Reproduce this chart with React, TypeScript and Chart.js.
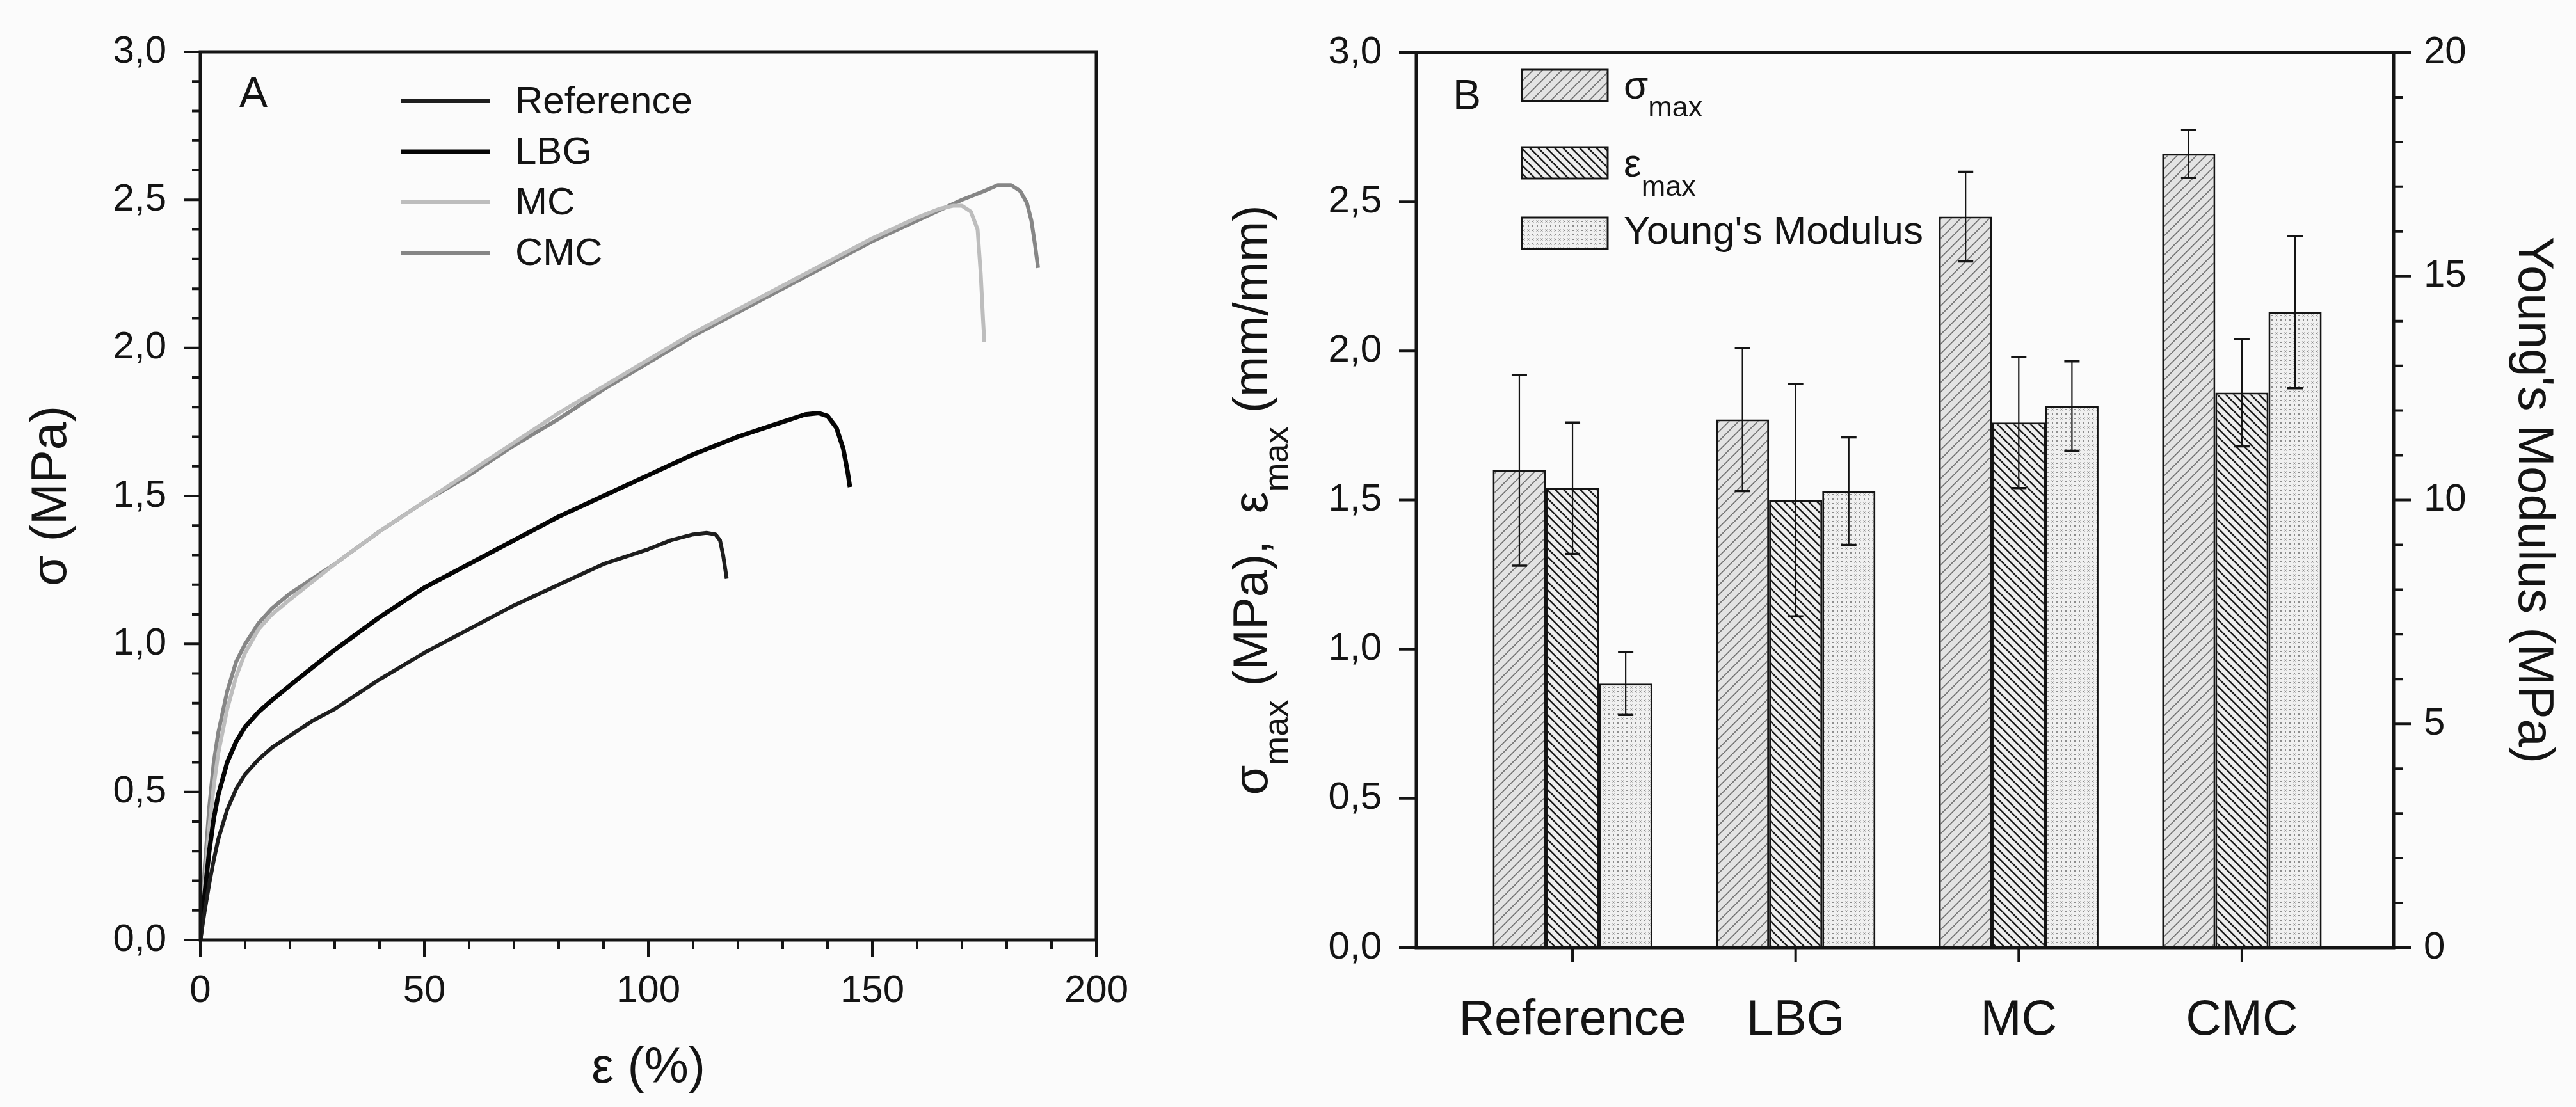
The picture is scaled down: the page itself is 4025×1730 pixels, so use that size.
import React, { useEffect, useRef } from 'react';
import { Chart, registerables } from 'chart.js';

Chart.register(...registerables);

const FONT = '"Liberation Sans", Arial, Helvetica, sans-serif';
const INK = '#141414';

// ---------- Panel A data (stress-strain curves) ----------
const refStrain = [0, 1, 2, 3, 4, 6, 8, 10, 13, 16, 20, 25, 30, 40, 50, 60, 70, 80, 90, 100, 105, 110, 113, 115, 116, 116.7, 117.2, 117.5];
const refStress = [0, 0.1, 0.19, 0.27, 0.34, 0.44, 0.51, 0.56, 0.61, 0.65, 0.69, 0.74, 0.78, 0.88, 0.97, 1.05, 1.13, 1.2, 1.27, 1.32, 1.35, 1.37, 1.375, 1.37, 1.35, 1.3, 1.25, 1.22];

const lbgStrain = [0, 1, 2, 3, 4, 6, 8, 10, 13, 16, 20, 25, 30, 40, 50, 60, 70, 80, 90, 100, 110, 120, 130, 135, 138, 140, 142, 143.5, 144.5, 145];
const lbgStress = [0, 0.16, 0.3, 0.41, 0.49, 0.6, 0.67, 0.72, 0.77, 0.81, 0.86, 0.92, 0.98, 1.09, 1.19, 1.27, 1.35, 1.43, 1.5, 1.57, 1.64, 1.7, 1.75, 1.775, 1.78, 1.77, 1.73, 1.66, 1.58, 1.53];

const mcStrain = [0, 1, 2, 3, 4, 6, 8, 10, 13, 16, 20, 25, 30, 40, 50, 60, 70, 80, 90, 100, 110, 120, 130, 140, 150, 160, 165, 168, 170, 172, 173.5, 174.2, 174.7, 175];
const mcStress = [0, 0.2, 0.38, 0.52, 0.63, 0.78, 0.89, 0.97, 1.05, 1.1, 1.15, 1.21, 1.27, 1.38, 1.48, 1.58, 1.68, 1.78, 1.87, 1.96, 2.05, 2.13, 2.21, 2.29, 2.37, 2.44, 2.47, 2.48, 2.48, 2.46, 2.4, 2.25, 2.1, 2.02];

const cmcStrain = [0, 1, 2, 3, 4, 6, 8, 10, 13, 16, 20, 25, 30, 40, 50, 60, 70, 80, 90, 100, 110, 120, 130, 140, 150, 160, 170, 175, 178, 181, 183, 184.5, 185.5, 186.3, 187];
const cmcStress = [0, 0.25, 0.45, 0.6, 0.7, 0.84, 0.94, 1.0, 1.07, 1.12, 1.17, 1.22, 1.27, 1.38, 1.48, 1.57, 1.67, 1.76, 1.86, 1.95, 2.04, 2.12, 2.2, 2.28, 2.36, 2.43, 2.5, 2.53, 2.55, 2.55, 2.53, 2.49, 2.43, 2.35, 2.27];

const curveLabels = ['Reference', 'LBG', 'MC', 'CMC'];
const xTicksA = [0, 50, 100, 150, 200];
const yTicksA = [0, 0.5, 1, 1.5, 2, 2.5, 3];

// ---------- Panel B data (bars) ----------
const categories = ['Reference', 'LBG', 'MC', 'CMC'];
const sigmaMax = [1.6, 1.77, 2.45, 2.66];
const sigmaErr = [0.32, 0.24, 0.15, 0.08];
const epsMax = [1.54, 1.5, 1.76, 1.86];
const epsErr = [0.22, 0.39, 0.22, 0.18];
const youngMod = [5.9, 10.2, 12.1, 14.2];
const youngErr = [0.7, 1.2, 1.0, 1.7];
const yTicksB = [0, 0.5, 1, 1.5, 2, 2.5, 3];
const y2TicksB = [0, 5, 10, 15, 20];

// ---------- layout ----------
const W = 4025;
const H = 1730;
const A_W = 1860;
const B_X = 1860;
const B_W = W - B_X;
const A_AREA = { left: 313, right: 1713, top: 68, bottom: 1469 };
const B_AREA = { left: 2213 - B_X, right: 3740 - B_X, top: 79, bottom: 1481 };

const comma = (v: number) => v.toFixed(1).replace('.', ',');

function makePattern(kind: string): CanvasPattern {
  const c = document.createElement('canvas');
  const g = c.getContext('2d') as CanvasRenderingContext2D;
  if (kind === 'sigma') {
    const s = 15;
    c.width = s; c.height = s;
    g.fillStyle = '#e3e3e3'; g.fillRect(0, 0, s, s);
    g.strokeStyle = '#707070'; g.lineWidth = 1.6;
    g.beginPath();
    g.moveTo(0, s); g.lineTo(s, 0);
    g.moveTo(-1, 1); g.lineTo(1, -1);
    g.moveTo(s - 1, s + 1); g.lineTo(s + 1, s - 1);
    g.stroke();
  } else if (kind === 'eps') {
    const s = 13;
    c.width = s; c.height = s;
    g.fillStyle = '#eeeeee'; g.fillRect(0, 0, s, s);
    g.strokeStyle = '#1c1c1c'; g.lineWidth = 2.4;
    g.beginPath();
    g.moveTo(0, 0); g.lineTo(s, s);
    g.moveTo(-1, s - 1); g.lineTo(1, s + 1);
    g.moveTo(s - 1, -1); g.lineTo(s + 1, 1);
    g.stroke();
  } else {
    const s = 7;
    c.width = s; c.height = s;
    g.fillStyle = '#f0f0f0'; g.fillRect(0, 0, s, s);
    g.strokeStyle = '#8c8c8c'; g.lineWidth = 1;
    g.beginPath();
    g.moveTo(1.5, 1.5); g.lineTo(4.5, 4.5);
    g.moveTo(4.5, 1.5); g.lineTo(1.5, 4.5);
    g.stroke();
  }
  return g.createPattern(c, 'repeat') as CanvasPattern;
}

type Part = { t: string; sub?: boolean };
function drawRich(ctx: CanvasRenderingContext2D, parts: Part[], x: number, y: number, main: number, sub: number, shift: number, align: 'left' | 'center') {
  let total = 0;
  parts.forEach((p) => {
    ctx.font = `${p.sub ? sub : main}px ${FONT}`;
    total += ctx.measureText(p.t).width;
  });
  let cx = align === 'center' ? x - total / 2 : x;
  ctx.textAlign = 'left';
  ctx.textBaseline = 'alphabetic';
  parts.forEach((p) => {
    ctx.font = `${p.sub ? sub : main}px ${FONT}`;
    ctx.fillText(p.t, cx, y + (p.sub ? shift : 0));
    cx += ctx.measureText(p.t).width;
  });
}

const decorA = {
  id: 'decorA',
  afterDraw(chart: any) {
    const { ctx, chartArea: ca, scales } = chart;
    const xs = scales.x;
    const ys = scales.y;
    ctx.save();
    ctx.strokeStyle = INK;
    ctx.lineWidth = 5;
    ctx.strokeRect(ca.left, ca.top, ca.right - ca.left, ca.bottom - ca.top);
    ctx.lineWidth = 4;
    ctx.beginPath();
    for (let k = 0; k <= 20; k++) {
      const p = xs.getPixelForValue(k * 10);
      const len = k % 5 === 0 ? 26 : 14;
      ctx.moveTo(p, ca.bottom);
      ctx.lineTo(p, ca.bottom + len);
    }
    for (let k = 0; k <= 30; k++) {
      const p = ys.getPixelForValue(k / 10);
      const len = k % 5 === 0 ? 26 : 13;
      ctx.moveTo(ca.left, p);
      ctx.lineTo(ca.left - len, p);
    }
    ctx.stroke();

    ctx.fillStyle = INK;
    ctx.font = `66px ${FONT}`;
    ctx.textAlign = 'left';
    ctx.textBaseline = 'alphabetic';
    ctx.fillText('A', 374, 167);

    chart.data.datasets.forEach((ds: any, i: number) => {
      const y = 158 + i * 79;
      ctx.strokeStyle = ds.borderColor;
      ctx.lineWidth = ds.borderWidth;
      ctx.beginPath();
      ctx.moveTo(627, y);
      ctx.lineTo(765, y);
      ctx.stroke();
      ctx.fillStyle = INK;
      ctx.font = `60px ${FONT}`;
      ctx.textAlign = 'left';
      ctx.textBaseline = 'middle';
      ctx.fillText(ds.label, 805, y + 2);
    });

    ctx.fillStyle = INK;
    ctx.font = `78px ${FONT}`;
    ctx.textAlign = 'center';
    ctx.textBaseline = 'alphabetic';
    ctx.fillText('ε (%)', (ca.left + ca.right) / 2, 1692);
    ctx.save();
    ctx.translate(103, (ca.top + ca.bottom) / 2);
    ctx.rotate(-Math.PI / 2);
    ctx.fillText('σ (MPa)', 0, 0);
    ctx.restore();
    ctx.restore();
  },
};

const decorB = {
  id: 'decorB',
  afterDatasetsDraw(chart: any) {
    const { ctx } = chart;
    ctx.save();
    ctx.strokeStyle = INK;
    chart.data.datasets.forEach((ds: any, di: number) => {
      const meta = chart.getDatasetMeta(di);
      const ys = chart.scales[meta.yAxisID];
      meta.data.forEach((bar: any, i: number) => {
        const v = ds.data[i].y;
        const e = ds.errors[i];
        const t = ys.getPixelForValue(v + e);
        const b = ys.getPixelForValue(v - e);
        ctx.lineWidth = 2.2;
        ctx.beginPath();
        ctx.moveTo(bar.x, t);
        ctx.lineTo(bar.x, b);
        ctx.stroke();
        ctx.lineWidth = 3.5;
        ctx.beginPath();
        ctx.moveTo(bar.x - 12, t);
        ctx.lineTo(bar.x + 12, t);
        ctx.moveTo(bar.x - 12, b);
        ctx.lineTo(bar.x + 12, b);
        ctx.stroke();
      });
    });
    ctx.restore();
  },
  afterDraw(chart: any) {
    const { ctx, chartArea: ca, scales } = chart;
    ctx.save();
    ctx.strokeStyle = INK;
    ctx.lineWidth = 5;
    ctx.strokeRect(ca.left, ca.top, ca.right - ca.left, ca.bottom - ca.top);
    ctx.lineWidth = 4;
    ctx.beginPath();
    yTicksB.forEach((v) => {
      const p = scales.y.getPixelForValue(v);
      ctx.moveTo(ca.left, p);
      ctx.lineTo(ca.left - 27, p);
    });
    for (let k = 0; k <= 20; k++) {
      const p = scales.y2.getPixelForValue(k);
      const len = k % 5 === 0 ? 27 : 14;
      ctx.moveTo(ca.right, p);
      ctx.lineTo(ca.right + len, p);
    }
    categories.forEach((_, i) => {
      const p = scales.x.getPixelForValue(i);
      ctx.moveTo(p, ca.bottom);
      ctx.lineTo(p, ca.bottom + 22);
    });
    ctx.stroke();

    ctx.fillStyle = INK;
    ctx.font = `66px ${FONT}`;
    ctx.textAlign = 'left';
    ctx.textBaseline = 'alphabetic';
    ctx.fillText('B', 2270 - B_X, 171);

    // legend
    const boxes = [109, 230, 340];
    const bx = 2378 - B_X;
    chart.data.datasets.forEach((ds: any, i: number) => {
      const y = boxes[i];
      ctx.fillStyle = ds.backgroundColor;
      ctx.fillRect(bx, y, 134, 49);
      ctx.strokeStyle = INK;
      ctx.lineWidth = 3;
      ctx.strokeRect(bx, y, 134, 49);
    });
    ctx.fillStyle = INK;
    const tx = 2537 - B_X;
    drawRich(ctx, [{ t: 'σ' }, { t: 'max', sub: true }], tx, 154, 62, 45, 28, 'left');
    drawRich(ctx, [{ t: 'ε' }, { t: 'max', sub: true }], tx, 276, 62, 45, 30, 'left');
    ctx.font = `62px ${FONT}`;
    ctx.fillText("Young's Modulus", tx, 381);

    // axis titles
    const cy = (ca.top + ca.bottom) / 2;
    ctx.save();
    ctx.translate(1980 - B_X, cy);
    ctx.rotate(-Math.PI / 2);
    drawRich(ctx, [
      { t: 'σ' }, { t: 'max', sub: true }, { t: ' (MPa),  ' },
      { t: 'ε' }, { t: 'max', sub: true }, { t: ' (mm/mm)' },
    ], 0, 0, 76, 54, 32, 'center');
    ctx.restore();
    ctx.save();
    ctx.translate(3936 - B_X, cy);
    ctx.rotate(Math.PI / 2);
    ctx.font = `78px ${FONT}`;
    ctx.textAlign = 'center';
    ctx.textBaseline = 'alphabetic';
    ctx.fillText("Young's Modulus (MPa)", 0, 0);
    ctx.restore();
    ctx.restore();
  },
};

export default function App() {
  const aRef = useRef<HTMLCanvasElement>(null);
  const bRef = useRef<HTMLCanvasElement>(null);

  useEffect(() => {
    Chart.defaults.font.family = FONT;
    Chart.defaults.color = INK;

    const series = [
      [refStrain, refStress],
      [lbgStrain, lbgStress],
      [mcStrain, mcStress],
      [cmcStrain, cmcStress],
    ];
    const colors = ['#1e1e1e', '#050505', '#bdbdbd', '#868686'];
    const widths = [6, 7, 6, 6];

    const chartA = new Chart(aRef.current as HTMLCanvasElement, {
      type: 'scatter',
      data: {
        datasets: series.map(([xs, ys], i) => ({
          label: curveLabels[i],
          data: xs.map((x, j) => ({ x, y: ys[j] })),
          showLine: true,
          borderColor: colors[i],
          backgroundColor: colors[i],
          borderWidth: widths[i],
          borderJoinStyle: 'round',
          pointRadius: 0,
          tension: 0,
          fill: false,
        })),
      },
      options: {
        responsive: false,
        animation: false,
        events: [],
        layout: { padding: { left: 0, top: A_AREA.top, right: A_W - A_AREA.right, bottom: 0 } },
        plugins: { legend: { display: false }, tooltip: { enabled: false } },
        scales: {
          x: {
            type: 'linear',
            min: 0,
            max: 200,
            offset: false,
            grid: { display: false },
            border: { display: false },
            afterBuildTicks: (s: any) => { s.ticks = xTicksA.map((v) => ({ value: v })); },
            ticks: { padding: 36, font: { size: 60, family: FONT }, color: INK, maxRotation: 0, autoSkip: false },
            afterFit: (s: any) => { s.height = H - A_AREA.bottom; },
          },
          y: {
            type: 'linear',
            min: 0,
            max: 3,
            grid: { display: false },
            border: { display: false },
            afterBuildTicks: (s: any) => { s.ticks = yTicksA.map((v) => ({ value: v })); },
            ticks: { padding: 45, font: { size: 60, family: FONT }, color: INK, callback: (v: any) => comma(Number(v)) },
            afterFit: (s: any) => { s.width = A_AREA.left; },
          },
        },
      } as any,
      plugins: [decorA],
    });

    const pats = [makePattern('sigma'), makePattern('eps'), makePattern('young')];
    const barSets = [
      { label: 'σmax', vals: sigmaMax, errs: sigmaErr, axis: 'y' },
      { label: 'εmax', vals: epsMax, errs: epsErr, axis: 'y' },
      { label: "Young's Modulus", vals: youngMod, errs: youngErr, axis: 'y2' },
    ];

    const chartB = new Chart(bRef.current as HTMLCanvasElement, {
      type: 'bar',
      data: {
        datasets: barSets.map((b, i) => ({
          label: b.label,
          data: b.vals.map((v, j) => ({ x: j, y: v })),
          errors: b.errs,
          yAxisID: b.axis,
          backgroundColor: pats[i],
          borderColor: INK,
          borderWidth: 3,
          borderSkipped: false,
          categoryPercentage: 0.715,
          barPercentage: 1.0,
        })),
      },
      options: {
        responsive: false,
        animation: false,
        events: [],
        layout: { padding: { left: 0, top: B_AREA.top, right: 0, bottom: 0 } },
        plugins: { legend: { display: false }, tooltip: { enabled: false } },
        scales: {
          x: {
            type: 'linear',
            min: -0.7,
            max: 3.68,
            offset: false,
            grid: { display: false, offset: false },
            border: { display: false },
            afterBuildTicks: (s: any) => { s.ticks = categories.map((_, i) => ({ value: i })); },
            ticks: {
              padding: 61,
              font: { size: 77, family: FONT },
              color: INK,
              maxRotation: 0,
              autoSkip: false,
              callback: (v: any) => categories[Number(v)] ?? '',
            },
            afterFit: (s: any) => { s.height = H - B_AREA.bottom; },
          },
          y: {
            type: 'linear',
            position: 'left',
            min: 0,
            max: 3,
            grid: { display: false },
            border: { display: false },
            afterBuildTicks: (s: any) => { s.ticks = yTicksB.map((v) => ({ value: v })); },
            ticks: { padding: 46, font: { size: 60, family: FONT }, color: INK, callback: (v: any) => comma(Number(v)) },
            afterFit: (s: any) => { s.width = B_AREA.left; },
          },
          y2: {
            type: 'linear',
            position: 'right',
            min: 0,
            max: 20,
            grid: { display: false },
            border: { display: false },
            afterBuildTicks: (s: any) => { s.ticks = y2TicksB.map((v) => ({ value: v })); },
            ticks: { padding: 39, font: { size: 60, family: FONT }, color: INK, callback: (v: any) => String(v) },
            afterFit: (s: any) => { s.width = B_W - B_AREA.right; },
          },
        },
      } as any,
      plugins: [decorB],
    });

    return () => {
      chartA.destroy();
      chartB.destroy();
    };
  }, []);

  return (
    <div style={{ position: 'absolute', left: 0, top: 0, width: W, height: H, background: '#fbfbfb', overflow: 'hidden' }}>
      <canvas ref={aRef} width={A_W} height={H} style={{ position: 'absolute', left: 0, top: 0, width: A_W, height: H }} />
      <canvas ref={bRef} width={B_W} height={H} style={{ position: 'absolute', left: B_X, top: 0, width: B_W, height: H }} />
    </div>
  );
}
